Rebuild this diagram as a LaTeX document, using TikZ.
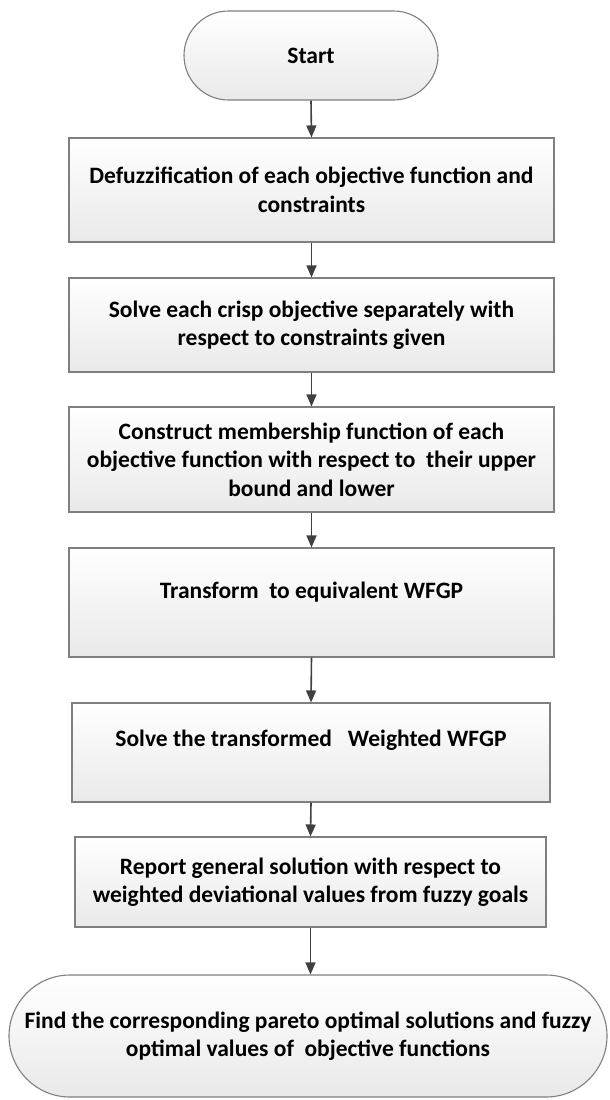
\documentclass[tikz,border=0pt]{standalone}
\usepackage{fontspec}
\setmainfont{Carlito}
\usetikzlibrary{arrows.meta,shapes.misc}
\definecolor{edgegray}{HTML}{7F7F7F}
\definecolor{arrowgray}{HTML}{404040}
\definecolor{fillbot}{HTML}{E9E9E9}
\tikzset{
  boxstyle/.style={draw=edgegray, line width=1.1pt, top color=white, bottom color=fillbot,
    minimum width=#1, inner sep=0pt, align=center},
  termstyle/.style={rounded rectangle, draw=edgegray, line width=1.1pt, top color=white,
    bottom color=fillbot, inner sep=0pt, align=center},
  txt/.style={font=\bfseries\fontsize{23.5}{28.5}\selectfont, align=center},
  flow/.style={draw=arrowgray, line width=1.6pt, -{Triangle[width=10pt,length=12pt]}}
}
\begin{document}
\begin{tikzpicture}[x=1pt,y=-1pt]
\useasboundingbox (0,0) rectangle (610,1100);
\node[termstyle, minimum width=254pt, minimum height=89pt, txt] (start) at (311,55.5) {Start};
\node[boxstyle=485pt, minimum height=104pt, txt] (b1) at (311.5,190)
  {Defuzzification of each objective function and\\constraints};
\node[boxstyle=485pt, minimum height=94pt, txt] (b2) at (311.5,325)
  {Solve each crisp objective separately with\\respect to constraints given};
\node[boxstyle=485pt, minimum height=105pt, txt] (b3) at (311.5,459.5)
  {Construct membership function of each\\objective function with respect to\ \ their upper\\bound and lower};
\node[boxstyle=485pt, minimum height=109pt] (b4) at (311.5,602.5) {};
\node[txt] (t4) at (311.5,592) {Transform\ \ to equivalent WFGP};
\node[boxstyle=478pt, minimum height=99pt] (b5) at (311,752.5) {};
\node[txt] (t5) at (311,740) {Solve the transformed\hspace{16pt}Weighted WFGP};
\node[boxstyle=471pt, minimum height=90pt, txt] (b6) at (310.5,882)
  {Report general solution with respect to\\weighted deviational values from fuzzy goals};
\node[termstyle, minimum width=598pt, minimum height=122pt, txt] (end) at (308,1036)
  {Find the corresponding pareto optimal solutions and fuzzy\\optimal values of\ \ objective functions};
\draw[flow] (start.south) -- (b1.north);
\draw[flow] (b1.south) -- (b2.north);
\draw[flow] (b2.south) -- (b3.north);
\draw[flow] (b3.south) -- (b4.north);
\draw[flow] (b4.south) -- (b5.north);
\draw[flow] (b5.south) -- (b6.north);
\draw[flow] (b6.south) -- (b6.south |- end.north);
\end{tikzpicture}
\end{document}
